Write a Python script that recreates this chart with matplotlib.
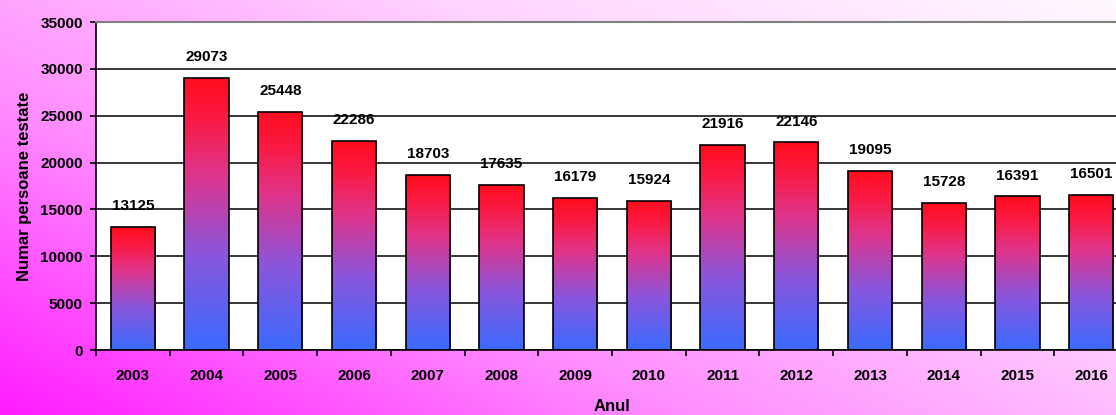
import numpy as np
import matplotlib
matplotlib.use("Agg")
import matplotlib.pyplot as plt
from matplotlib.colors import LinearSegmentedColormap

years = ["2003", "2004", "2005", "2006", "2007", "2008", "2009", "2010",
         "2011", "2012", "2013", "2014", "2015", "2016"]
values = [13125, 29073, 25448, 22286, 18703, 17635, 16179, 15924,
          21916, 22146, 19095, 15728, 16391, 16501]

plt.rcParams['font.family'] = ['Liberation Sans', 'DejaVu Sans']
plt.rcParams['font.weight'] = 'bold'

W, H = 1116, 415
fig = plt.figure(figsize=(W / 100, H / 100), dpi=100)

# background gradient (dark magenta bottom-left -> very light top-right)
bg = fig.add_axes([0, 0, 1, 1], zorder=0)
bg.set_axis_off()
yy, xx = np.mgrid[0:1:200j, 0:1:400j]
t = (xx * 0.75 + yy * 0.6) / 1.35
bg_cmap = LinearSegmentedColormap.from_list("bg", ["#ff1cff", "#ff8cff", "#ffd4ff", "#fff8ff"])
bg.imshow(t, cmap=bg_cmap, origin="lower", extent=[0, 1, 0, 1], aspect="auto")

left = 96 / W
right = 1128 / W
bottom = (H - 350) / H
top = (H - 22) / H
ax = fig.add_axes([left, bottom, right - left, top - bottom], zorder=1)
ax.set_facecolor("white")

x = np.arange(len(years))
bars = ax.bar(x, values, width=0.6, color="none", edgecolor="black", linewidth=1.2, zorder=3)

bar_cmap = LinearSegmentedColormap.from_list(
    "bar", [(0.0, "#3a6bff"), (0.35, "#8a56dc"), (0.65, "#e0348a"), (0.85, "#fa1a44"), (1.0, "#ff0c1c")])
grad = np.linspace(0, 1, 256).reshape(-1, 1)
for b in bars:
    x0, y0 = b.get_x(), b.get_y()
    w, h = b.get_width(), b.get_height()
    im = ax.imshow(grad, cmap=bar_cmap, origin="lower", extent=[x0, x0 + w, y0, y0 + h],
                   aspect="auto", zorder=2)
    im.set_clip_path(b)

for xi, v in zip(x, values):
    ax.annotate(f"{v}", (xi, v), xytext=(0, 10), textcoords="offset points",
                ha="center", va="bottom", fontsize=11, fontweight="bold")

ax.set_xlim(-0.5, len(years) - 0.5)
ax.set_ylim(0, 35000)
ax.set_yticks(np.arange(0, 35001, 5000))
ax.yaxis.grid(True, color="black", linewidth=1.1, zorder=1)
ax.set_axisbelow(True)

ax.set_xticks(x)
ax.set_xticklabels(years)
ax.set_xticks(np.arange(-0.5, len(years), 1), minor=True)
ax.tick_params(axis="x", which="major", length=0, pad=13.5, labelsize=11)
ax.tick_params(axis="x", which="minor", length=4, width=1.2, direction="out")
ax.tick_params(axis="y", length=4.5, width=1.2, direction="out", labelsize=11, pad=5)
for lab in ax.get_xticklabels() + ax.get_yticklabels():
    lab.set_fontweight("bold")

ax.spines["top"].set_color("#808080")
ax.spines["top"].set_linewidth(1.5)
ax.spines["right"].set_visible(False)
ax.spines["left"].set_linewidth(1.2)
ax.spines["bottom"].set_linewidth(1.2)

ax.set_ylabel("Numar persoane testate", fontsize=12, fontweight="bold", labelpad=6)
ax.set_xlabel("Anul", fontsize=12, fontweight="bold", labelpad=12)

fig.savefig("out.png", dpi=100)
